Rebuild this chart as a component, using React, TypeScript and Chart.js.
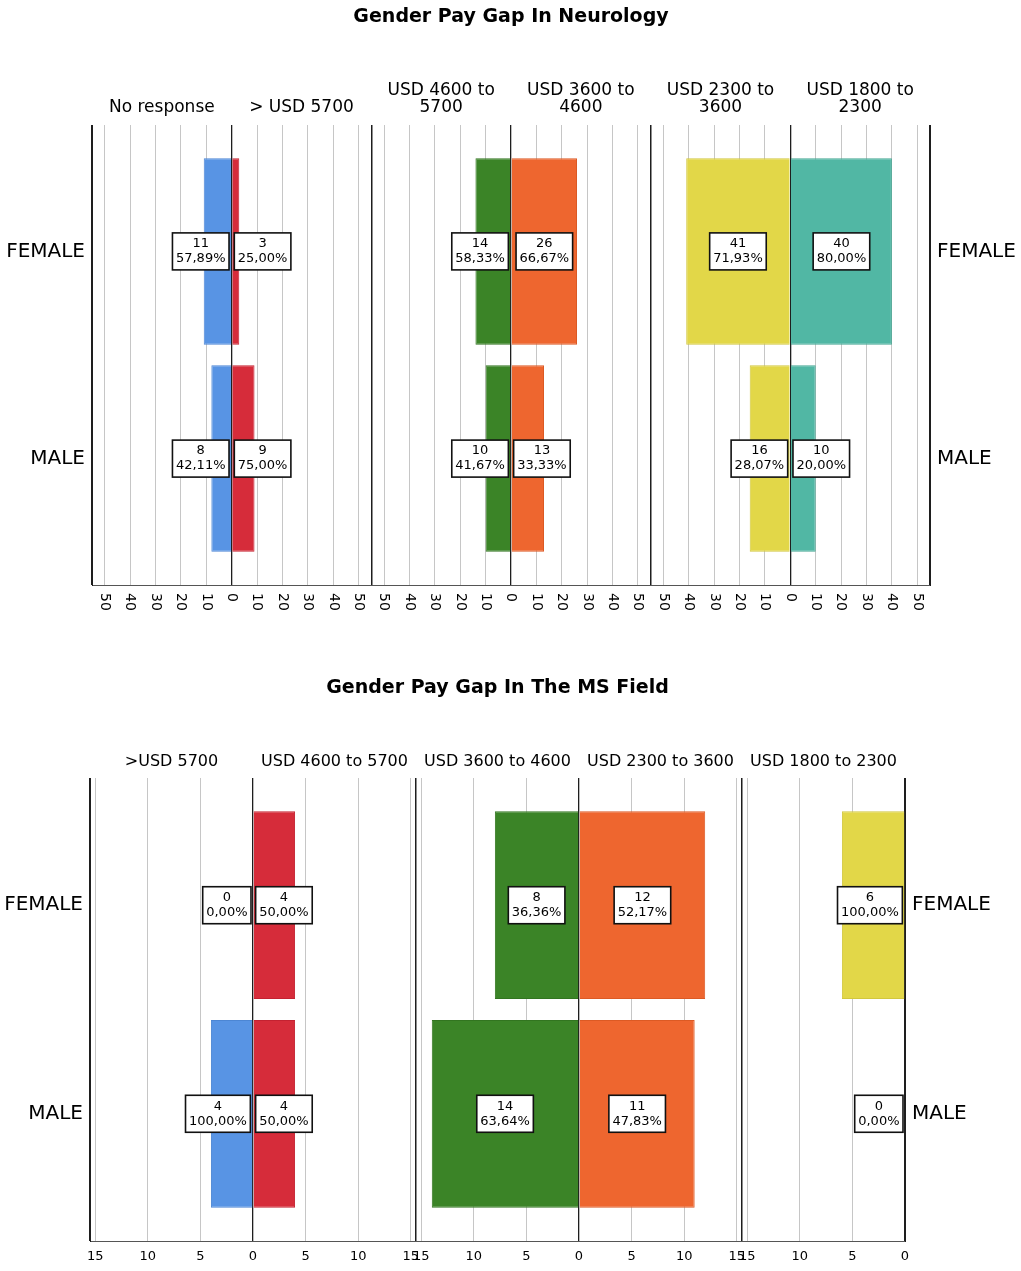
import React, { useEffect, useRef } from 'react';
import Chart from 'chart.js/auto';

const FONT = "'DejaVu Sans', sans-serif";
const GRID_GRAY = '#c6c6c6';
const LINE_DARK = '#1e1e1e';
const PALETTE = ['#5894e4', '#d62c3a', '#3b8427', '#ee662f', '#e2d748', '#51b7a4'];
const EDGE = ['#4c86d4', '#c42231', '#327520', '#dc5a24', '#d2c73e', '#46a693'];

const GENDERS = ['FEMALE', 'MALE'];

// Gender Pay Gap In Neurology
const NEURO_GROUPS = ['No response', '> USD 5700', 'USD 4600 to\n5700', 'USD 3600 to\n4600', 'USD 2300 to\n3600', 'USD 1800 to\n2300'];
const NEURO_FEMALE = [11, 3, 14, 26, 41, 40];
const NEURO_MALE = [8, 9, 10, 13, 16, 10];
const NEURO_FEMALE_PCT = ['57,89%', '25,00%', '58,33%', '66,67%', '71,93%', '80,00%'];
const NEURO_MALE_PCT = ['42,11%', '75,00%', '41,67%', '33,33%', '28,07%', '20,00%'];
const NEURO_TICKS = [-50, -40, -30, -20, -10, 0, 10, 20, 30, 40, 50];

// Gender Pay Gap In The MS Field
const MS_GROUPS = ['>USD 5700', 'USD 4600 to 5700', 'USD 3600 to 4600', 'USD 2300 to 3600', 'USD 1800 to 2300'];
const MS_FEMALE = [0, 4, 8, 12, 6];
const MS_MALE = [4, 4, 14, 11, 0];
const MS_FEMALE_PCT = ['0,00%', '50,00%', '36,36%', '52,17%', '100,00%'];
const MS_MALE_PCT = ['100,00%', '50,00%', '63,64%', '47,83%', '0,00%'];
const MS_TICKS = [-15, -10, -5, 0, 5, 10, 15];
const MS_TICKS_HALF = [-15, -10, -5, 0];

interface PanelSpec {
  title: string;
  groups: string[];
  female: number[];
  male: number[];
  femalePct: string[];
  malePct: string[];
  ranges: [number, number][];
  ticks: number[][];
  rotatedTicks: boolean;
  height: number;
  leftWidth: number;
  rightWidth: number;
  axisHeight: number;
  titlePad: { top: number; bottom: number };
  headerSize: number;
  headerGap: number;
}

const NEURO: PanelSpec = {
  title: 'Gender Pay Gap In Neurology',
  groups: NEURO_GROUPS,
  female: NEURO_FEMALE,
  male: NEURO_MALE,
  femalePct: NEURO_FEMALE_PCT,
  malePct: NEURO_MALE_PCT,
  ranges: [[-55, 55], [-55, 55], [-55, 55]],
  ticks: [NEURO_TICKS, NEURO_TICKS, NEURO_TICKS],
  rotatedTicks: true,
  height: 640,
  leftWidth: 92,
  rightWidth: 91,
  axisHeight: 55,
  titlePad: { top: 6, bottom: 96.2 },
  headerSize: 17,
  headerGap: 17,
};

const MS: PanelSpec = {
  title: 'Gender Pay Gap In The MS Field',
  groups: MS_GROUPS,
  female: MS_FEMALE,
  male: MS_MALE,
  femalePct: MS_FEMALE_PCT,
  malePct: MS_MALE_PCT,
  ranges: [[-15.5, 15.5], [-15.5, 15.5], [-15.5, 0]],
  ticks: [MS_TICKS, MS_TICKS, MS_TICKS_HALF],
  rotatedTicks: false,
  height: 631,
  leftWidth: 90,
  rightWidth: 116,
  axisHeight: 30,
  titlePad: { top: 37, bottom: 78.2 },
  headerSize: 16,
  headerGap: 16,
};

// labels, headers and the rotated tick numbers
const annotate = (p: PanelSpec) => ({
  id: 'annotate',
  afterDatasetsDraw(chart: any) {
    const ctx = chart.ctx;
    ctx.save();
    ctx.font = `13px ${FONT}`;
    ctx.textAlign = 'center';
    ctx.textBaseline = 'middle';
    chart.data.datasets.forEach((_ds: any, i: number) => {
      const meta = chart.getDatasetMeta(i);
      meta.data.forEach((bar: any, k: number) => {
        const lines = k === 0 ? [String(p.female[i]), p.femalePct[i]] : [String(p.male[i]), p.malePct[i]];
        const w = Math.max(...lines.map((t) => ctx.measureText(t).width)) + 7;
        const h = 37;
        const { x, base, y } = bar.getProps(['x', 'base', 'y'], true);
        const barW = Math.abs(x - base);
        let left: number;
        if (barW >= w) left = (x + base) / 2 - w / 2;
        else if (i % 2 === 0) left = base - 2 - w;
        else left = base + 2;
        ctx.fillStyle = '#fff';
        ctx.fillRect(left, y - h / 2, w, h);
        ctx.lineWidth = 1.6;
        ctx.strokeStyle = '#111';
        ctx.strokeRect(left, y - h / 2, w, h);
        ctx.fillStyle = '#000';
        ctx.fillText(lines[0], left + w / 2, y - 7.5);
        ctx.fillText(lines[1], left + w / 2, y + 7.5);
      });
    });
    ctx.restore();
  },
  afterDraw(chart: any) {
    const ctx = chart.ctx;
    const area = chart.chartArea;
    ctx.save();
    ctx.fillStyle = '#000';
    ctx.font = `${p.headerSize}px ${FONT}`;
    ctx.textAlign = 'center';
    ctx.textBaseline = 'middle';
    p.groups.forEach((g, i) => {
      const s = chart.scales['x' + Math.floor(i / 2)];
      const zero = s.getPixelForValue(0);
      const cx = i % 2 === 0 ? (s.left + zero) / 2 : (zero + s.right) / 2;
      const lines = g.split('\n');
      lines.forEach((t, j) => {
        ctx.fillText(t, cx, area.top - p.headerGap - (lines.length - 1 - j) * p.headerSize);
      });
    });
    if (p.rotatedTicks) {
      ctx.font = `14px ${FONT}`;
      ctx.textAlign = 'left';
      p.ticks.forEach((list, k) => {
        const s = chart.scales['x' + k];
        list.forEach((v) => {
          ctx.save();
          ctx.translate(s.getPixelForValue(v), s.top + 8);
          ctx.rotate(Math.PI / 2);
          ctx.fillText(String(Math.abs(v)), 0, 0);
          ctx.restore();
        });
      });
    }
    ctx.restore();
  },
});

function buildChart(canvas: HTMLCanvasElement, p: PanelSpec) {
  const datasets = p.groups.map((g, i) => {
    const sign = i % 2 === 0 ? -1 : 1;
    return {
      label: g,
      data: [p.female[i], p.male[i]].map((v, k) => ({ x: sign * v, y: k })),
      xAxisID: 'x' + Math.floor(i / 2),
      yAxisID: 'y',
      backgroundColor: PALETTE[i],
      borderColor: EDGE[i],
      borderWidth: 1,
      grouped: false,
      categoryPercentage: 1,
      barPercentage: 0.9,
    };
  });

  const scales: any = {};
  p.ranges.forEach(([lo, hi], k) => {
    const list = p.ticks[k];
    scales['x' + k] = {
      type: 'linear',
      position: 'bottom',
      stack: 'salary',
      stackWeight: hi - lo,
      min: lo,
      max: hi,
      offset: false,
      afterBuildTicks: (s: any) => {
        const vals = Array.from(new Set([lo, ...list, hi])).sort((a, b) => a - b);
        s.ticks = vals.map((value) => ({ value }));
      },
      afterFit: (s: any) => {
        s.height = p.axisHeight;
      },
      grid: {
        drawTicks: false,
        color: (c: any) => {
          const v = c.tick ? c.tick.value : 1;
          return v === 0 || v === lo || v === hi ? LINE_DARK : GRID_GRAY;
        },
        lineWidth: (c: any) => {
          const v = c.tick ? c.tick.value : 1;
          return v === 0 || v === lo || v === hi ? 1.3 : 1;
        },
      },
      border: { display: true, color: '#555', width: 1 },
      ticks: {
        display: !p.rotatedTicks,
        autoSkip: false,
        maxRotation: 0,
        minRotation: 0,
        padding: 8,
        color: '#000',
        font: { family: FONT, size: 13 },
        callback: (v: number) => (list.includes(v) ? String(Math.abs(v)) : ''),
      },
    };
  });

  const yCommon = {
    type: 'linear',
    min: -0.61,
    max: 1.61,
    reverse: true,
    offset: false,
    afterBuildTicks: (s: any) => {
      s.ticks = GENDERS.map((_g, value) => ({ value }));
    },
    grid: { display: false, drawTicks: false },
    border: { display: true, color: LINE_DARK, width: 1 },
    ticks: {
      padding: 7,
      color: '#000',
      font: { family: FONT, size: 20 },
      callback: (v: number) => GENDERS[v] ?? '',
    },
  };
  scales.y = { ...yCommon, position: 'left', afterFit: (s: any) => { s.width = p.leftWidth; } };
  scales.yR = { ...yCommon, position: 'right', afterFit: (s: any) => { s.width = p.rightWidth; } };

  return new Chart(canvas, {
    type: 'bar',
    data: { datasets: datasets as any },
    options: {
      indexAxis: 'y',
      responsive: false,
      animation: false,
      scales,
      plugins: {
        legend: { display: false },
        tooltip: { enabled: false },
        title: {
          display: true,
          text: p.title,
          fullSize: false,
          color: '#000',
          font: { family: FONT, size: 19, weight: 'bold' },
          padding: p.titlePad,
        },
      },
    },
    plugins: [annotate(p)],
  });
}

const PanelChart: React.FC<{ spec: PanelSpec }> = ({ spec }) => {
  const ref = useRef<HTMLCanvasElement>(null);

  useEffect(() => {
    if (!ref.current) return;
    const chart = buildChart(ref.current, spec);
    return () => {
      chart.destroy();
    };
  }, [spec]);

  return <canvas ref={ref} width={1021} height={spec.height} style={{ display: 'block' }} />;
};

export default function App() {
  return (
    <div style={{ position: 'absolute', left: 0, top: 0, width: 1021, background: '#fff' }}>
      <PanelChart spec={NEURO} />
      <PanelChart spec={MS} />
    </div>
  );
}
